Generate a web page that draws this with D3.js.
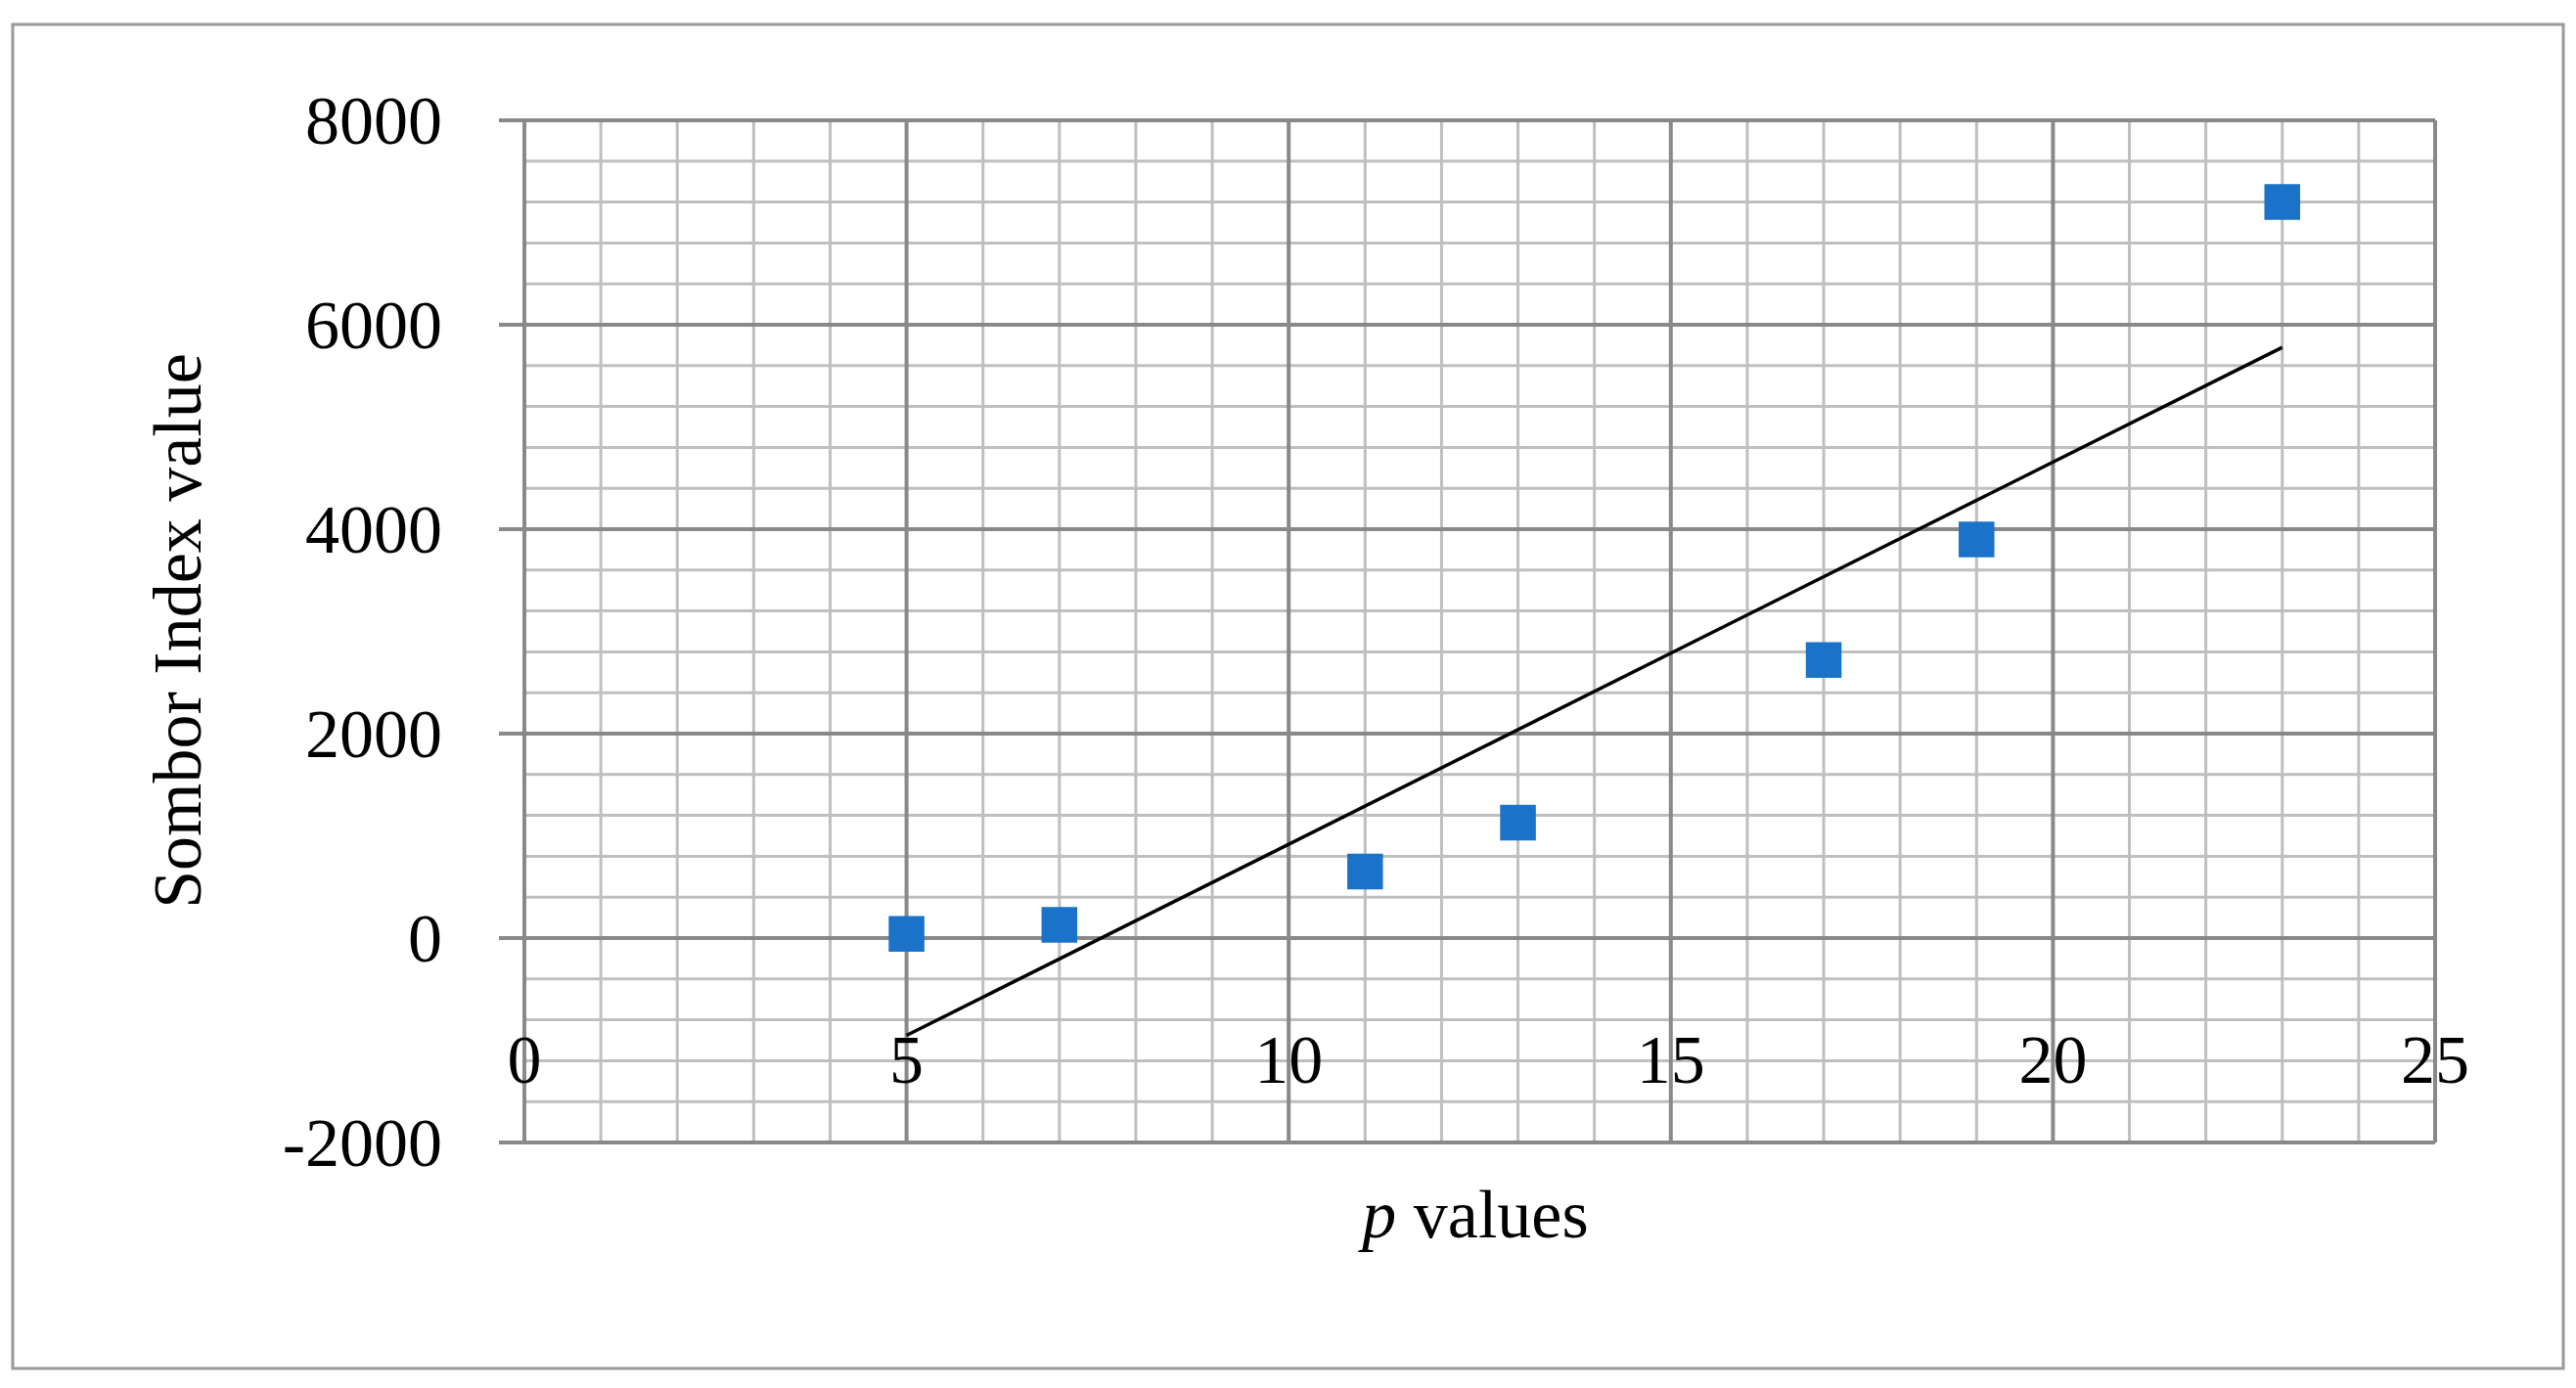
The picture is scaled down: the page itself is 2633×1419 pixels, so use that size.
<!DOCTYPE html>
<html><head><meta charset="utf-8">
<script src="https://cdn.jsdelivr.net/npm/d3@7"></script>
<style>body{margin:0;background:#fff}</style></head>
<body><svg id="c" width="2633" height="1419"></svg>
<script>
const pValues = [5, 7, 11, 13, 17, 19, 23];
const somborValues = [40, 130, 650, 1130, 2720, 3900, 7200];
const xTicks = [0, 5, 10, 15, 20, 25];
const yTicks = [-2000, 0, 2000, 4000, 6000, 8000];

const svg = d3.select("#c");
const font = "'Liberation Serif', serif";
const x = d3.scaleLinear().domain([0, 25]).range([536, 2489]);
const y = d3.scaleLinear().domain([-2000, 8000]).range([1168, 123]);

svg.append("rect").attr("x", 13).attr("y", 25).attr("width", 2607).attr("height", 1374)
  .attr("fill", "none").attr("stroke", "#999").attr("stroke-width", 3);

const g = svg.append("g");
// minor grid
d3.range(0, 26, 1).filter(v => v % 5).forEach(v =>
  g.append("line").attr("x1", x(v)).attr("x2", x(v)).attr("y1", y(8000)).attr("y2", y(-2000))
   .attr("stroke", "#bfbfbf").attr("stroke-width", 3));
d3.range(-2000, 8001, 400).filter(v => v % 2000).forEach(v =>
  g.append("line").attr("x1", x(0)).attr("x2", x(25)).attr("y1", y(v)).attr("y2", y(v))
   .attr("stroke", "#bfbfbf").attr("stroke-width", 3));
// major grid
xTicks.forEach(v =>
  g.append("line").attr("x1", x(v)).attr("x2", x(v)).attr("y1", y(8000)).attr("y2", y(-2000))
   .attr("stroke", "#898989").attr("stroke-width", 4));
yTicks.forEach(v =>
  g.append("line").attr("x1", x(0) - 26).attr("x2", x(25)).attr("y1", y(v)).attr("y2", y(v))
   .attr("stroke", "#898989").attr("stroke-width", 4));

// tick labels
yTicks.forEach(v => svg.append("text").attr("x", 452).attr("y", y(v) + 24)
  .attr("text-anchor", "end").attr("font-family", font).attr("font-size", 70).text(v));
xTicks.forEach(v => svg.append("text").attr("x", x(v)).attr("y", 1107)
  .attr("text-anchor", "middle").attr("font-family", font).attr("font-size", 70).text(v));

// trend line (least squares)
const mx = d3.mean(pValues), my = d3.mean(somborValues);
const slope = d3.sum(pValues, (p, i) => (p - mx) * (somborValues[i] - my)) / d3.sum(pValues, p => (p - mx) ** 2);
const icpt = my - slope * mx;
const x0 = d3.min(pValues), x1 = d3.max(pValues);
svg.append("line").attr("x1", x(x0)).attr("y1", y(icpt + slope * x0))
  .attr("x2", x(x1)).attr("y2", y(icpt + slope * x1)).attr("stroke", "#000").attr("stroke-width", 3.5);

// markers
svg.selectAll("path.m").data(pValues).join("path").attr("class", "m")
  .attr("d", d3.symbol().type(d3.symbolDiamond2).size(1700))
  .attr("transform", (p, i) => `translate(${x(p)},${y(somborValues[i])}) rotate(45)`)
  .attr("fill", "#1a73c9");

// titles
svg.append("text").attr("transform", "translate(205,645) rotate(-90)").attr("text-anchor", "middle")
  .attr("font-family", font).attr("font-size", 70).text("Sombor Index value");
const t = svg.append("text").attr("x", 1508).attr("y", 1265).attr("text-anchor", "middle")
  .attr("font-family", font).attr("font-size", 70);
t.append("tspan").attr("font-style", "italic").text("p");
t.append("tspan").text(" values");
</script></body></html>
